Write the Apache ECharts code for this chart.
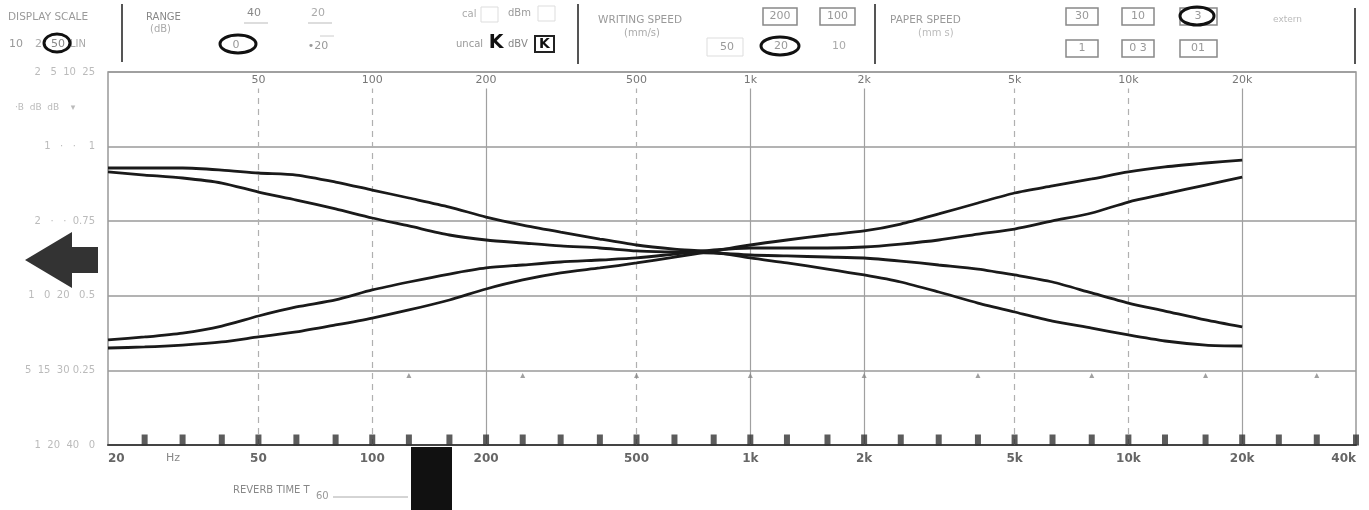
<!DOCTYPE html>
<html><head><meta charset="utf-8">
<script src="https://cdn.jsdelivr.net/npm/echarts@6/dist/echarts.min.js"></script>
<style>html,body{margin:0;padding:0;background:#fff}#c{width:1369px;height:510px}</style>
</head><body><div id="c"></div>
<script>
// ---- data (frequency in Hz, level in dB on a 50 dB display scale) ----
const freqs = [20,25,31.5,40,50,63,80,100,125,160,200,250,315,400,500,630,800,1000,1250,1600,2000,2500,3150,4000,5000,6300,8000,10000,12500,16000,20000];
const curveA = [37.13,37.13,37.13,36.86,36.46,36.19,35.25,34.18,33.11,31.90,30.56,29.49,28.55,27.61,26.81,26.27,25.87,25.07,24.40,23.59,22.79,21.85,20.51,19.03,17.83,16.62,15.68,14.75,13.94,13.40,13.27];
const curveB = [36.60,36.19,35.79,35.12,33.91,32.84,31.64,30.43,29.36,28.15,27.48,27.08,26.68,26.41,26.01,25.87,25.74,25.47,25.34,25.20,25.07,24.66,24.13,23.59,22.79,21.85,20.38,19.03,17.96,16.76,15.82];
const curveC = [13.00,13.14,13.40,13.81,14.48,15.15,16.09,17.02,18.10,19.44,20.91,22.12,23.06,23.73,24.40,25.20,26.01,26.81,27.48,28.15,28.69,29.62,30.97,32.44,33.78,34.72,35.66,36.60,37.27,37.80,38.20];
const curveD = [14.08,14.48,15.01,15.95,17.29,18.50,19.44,20.78,21.85,22.92,23.73,24.13,24.53,24.80,25.07,25.60,26.14,26.41,26.41,26.41,26.54,26.94,27.48,28.28,28.95,30.03,31.10,32.57,33.65,34.85,35.92];

const bottomLabelFreqs = [20,29.7,50,100,200,500,1000,2000,5000,10000,20000,40000];
const bottomLabelTexts = ['20','Hz','50','100','200','500','1k','2k','5k','10k','20k','40k'];
const topLabelFreqs = [50,100,200,500,1000,2000,5000,10000,20000];
const topLabelTexts = ['50','100','200','500','1k','2k','5k','10k','20k'];
const solidGridFreqs = [200,1000,2000,20000];
const dashedGridFreqs = [50,100,500,5000,10000];
const thirdOctaveMarks = [25,31.5,40,50,63,80,100,125,160,200,250,315,400,500,630,800,1000,1250,1600,2000,2500,3150,4000,5000,6300,8000,10000,12500,16000,20000,25000,31500,40000];
const octaveTriangles = [125,250,500,1000,2000,4000,8000,16000,31500];
const triangleLevel = 9.3;
const yTickValues = [0,10,20,30,40,50];
const yTickLabels = ['1  20  40   0','5  15  30 0.25','1   0  20   0.5','2   ·   ·  0.75','1   ·   ·    1','2   5  10  25'];
const gridTop = 47.8;

// ---- build ----
const lx = f => Math.log10(f);
const pick = (vals, texts) => v => { for (let i = 0; i < vals.length; i++) if (Math.abs(lx(vals[i]) - v) < 1e-4) return texts[i]; return ''; };
const curve = arr => freqs.map((f, i) => [lx(f), arr[i]]);
const bottomFmt = v => { const t = pick(bottomLabelFreqs, bottomLabelTexts)(v); return t === 'Hz' ? '{u|Hz}' : t; };

const G = [];
const txt = (x, y, t, font, fill, align) => G.push({type:'text', x, y, silent:true, style:{text:t, font:font||'10px "DejaVu Sans"', fill:fill||'#999', align:align||'left', verticalAlign:'middle'}});
const rect = (x, y, w, h, stroke, lw) => G.push({type:'rect', silent:true, shape:{x, y, width:w, height:h}, style:{fill:null, stroke:stroke||'#aaa', lineWidth:lw||1}});
const ell = (cx, cy, rx, ry) => G.push({type:'ellipse', silent:true, shape:{cx, cy, rx, ry}, style:{fill:null, stroke:'#111', lineWidth:3}});
const line = (x1, y1, x2, y2, stroke, lw) => G.push({type:'line', silent:true, shape:{x1, y1, x2, y2}, style:{stroke:stroke||'#555', lineWidth:lw||2}});

// header
txt(8, 17, 'DISPLAY SCALE', '10.5px "DejaVu Sans"', '#9a9a9a');
txt(9, 44, '10', '11px "DejaVu Sans"', '#999');
txt(35, 44, '2', '11px "DejaVu Sans"', '#aaa');
txt(58, 44, '50', '11px "DejaVu Sans"', '#888', 'center');
txt(70, 44, 'LIN', '10px "DejaVu Sans"', '#aaa');
ell(57, 43, 13, 9);
line(122, 4, 122, 62, '#555', 2);
txt(146, 17, 'RANGE', '10px "DejaVu Sans"', '#888');
txt(150, 29, '(dB)', '10px "DejaVu Sans"', '#aaa');
txt(254, 13, '40', '11px "DejaVu Sans"', '#888', 'center');
line(244, 23, 268, 23, '#bbb', 1);
txt(318, 13, '20', '11px "DejaVu Sans"', '#aaa', 'center');
line(308, 23, 332, 23, '#bbb', 1);
txt(236, 45, '0', '11px "DejaVu Sans"', '#999', 'center');
ell(238, 44, 18, 9);
txt(318, 46, '•20', '11px "DejaVu Sans"', '#999', 'center');
line(320, 36, 334, 36, '#ccc', 1);
txt(462, 14, 'cal', '10px "DejaVu Sans"', '#aaa');
rect(481, 7, 17, 15, '#ddd', 1);
txt(508, 13, 'dBm', '10px "DejaVu Sans"', '#999');
rect(538, 6, 17, 15, '#ddd', 1);
txt(456, 44, 'uncal', '10px "DejaVu Sans"', '#999');
txt(496, 43, 'K', 'bold 19px "DejaVu Sans"', '#111', 'center');
txt(508, 44, 'dBV', '10px "DejaVu Sans"', '#888');
rect(535, 36, 19, 16, '#222', 2);
txt(544.5, 44, 'K', 'bold 14px "DejaVu Sans"', '#111', 'center');
line(578, 4, 578, 64, '#555', 2);
txt(598, 20, 'WRITING SPEED', '10.5px "DejaVu Sans"', '#999');
txt(624, 33, '(mm/s)', '10px "DejaVu Sans"', '#aaa');
rect(763, 8, 34, 17, '#888', 1.5); txt(780, 16.5, '200', '11px "DejaVu Sans"', '#999', 'center');
rect(820, 8, 35, 17, '#888', 1.5); txt(837.5, 16.5, '100', '11px "DejaVu Sans"', '#999', 'center');
rect(707, 38, 36, 18, '#ddd', 1); txt(727, 47, '50', '11px "DejaVu Sans"', '#999', 'center');
txt(781, 46, '20', '11px "DejaVu Sans"', '#999', 'center');
ell(780, 46, 19, 9);
txt(839, 46, '10', '11px "DejaVu Sans"', '#aaa', 'center');
line(875, 4, 875, 64, '#555', 2);
txt(890, 20, 'PAPER SPEED', '10.5px "DejaVu Sans"', '#999');
txt(918, 33, '(mm s)', '10px "DejaVu Sans"', '#bbb');
rect(1066, 8, 32, 17, '#888', 1.5); txt(1082, 16.5, '30', '11px "DejaVu Sans"', '#999', 'center');
rect(1122, 8, 32, 17, '#888', 1.5); txt(1138, 16.5, '10', '11px "DejaVu Sans"', '#999', 'center');
rect(1180, 8, 37, 17, '#888', 1.5); txt(1198, 16.5, '3', '11px "DejaVu Sans"', '#999', 'center');
ell(1197, 16, 17, 9);
rect(1066, 40, 32, 17, '#888', 1.5); txt(1082, 48.5, '1', '11px "DejaVu Sans"', '#999', 'center');
rect(1122, 40, 32, 17, '#888', 1.5); txt(1138, 48.5, '0 3', '11px "DejaVu Sans"', '#999', 'center');
rect(1180, 40, 37, 17, '#888', 1.5); txt(1198, 48.5, '01', '11px "DejaVu Sans"', '#999', 'center');
txt(1273, 20, 'extern', '9px "DejaVu Sans"', '#bbb');
line(1355, 8, 1355, 64, '#555', 2);
// left side
txt(15, 108, '·B  dB  dB    ▾', '9px "DejaVu Sans"', '#bbb');
G.push({type:'polygon', silent:true, shape:{points:[[25,260],[72,232],[72,247],[98,247],[98,273],[72,273],[72,288]]}, style:{fill:'#333'}});
// bottom
txt(233, 490, 'REVERB TIME T', '10px "DejaVu Sans"', '#888');
txt(316, 496, '60', '10px "DejaVu Sans"', '#999');
line(333, 497, 408, 497, '#aaa', 1);
G.push({type:'rect', silent:true, z:10, shape:{x:411, y:447, width:41, height:63}, style:{fill:'#111'}});

const gridLines = solidGridFreqs.map(f => [{coord:[lx(f), 0], lineStyle:{type:'solid', color:'#a0a0a0', width:1.2}}, {coord:[lx(f), gridTop]}])
  .concat(dashedGridFreqs.map(f => [{coord:[lx(f), 0], lineStyle:{type:[6,5], color:'#b0b0b0', width:1.2}}, {coord:[lx(f), gridTop]}]));

const curveStyle = {color:'#1a1a1a', width:2.8};
const mkCurve = (name, arr) => ({name, type:'line', data:curve(arr), showSymbol:false, smooth:0.25, z:5, lineStyle:curveStyle, itemStyle:{color:'#1a1a1a'}});

const chart = echarts.init(document.getElementById('c'), null, {renderer:'canvas'});
chart.setOption({
  animation:false,
  backgroundColor:'#fff',
  grid:{left:108, right:13, top:72, bottom:65, show:true, borderColor:'#999', borderWidth:1.5, outerBoundsMode:'none'},
  xAxis:[
    {type:'value', min:lx(20), max:lx(40000), position:'bottom',
     axisLine:{show:true, lineStyle:{color:'#444', width:2}}, axisTick:{show:false}, splitLine:{show:false},
     axisLabel:{customValues:bottomLabelFreqs.map(lx), formatter:bottomFmt, color:'#666', fontWeight:'bold', fontSize:12, fontFamily:'"DejaVu Sans", sans-serif', margin:8, alignMinLabel:'left', alignMaxLabel:'right', showMinLabel:true, showMaxLabel:true,
       rich:{u:{color:'#888', fontWeight:'normal', fontSize:11, fontFamily:'"DejaVu Sans", sans-serif'}}}},
    {type:'value', min:lx(20), max:lx(40000), position:'top',
     axisLine:{show:false}, axisTick:{show:false}, splitLine:{show:false},
     axisLabel:{inside:true, customValues:topLabelFreqs.map(lx), formatter:pick(topLabelFreqs, topLabelTexts), color:'#777', fontSize:11, fontFamily:'"DejaVu Sans", sans-serif', margin:3}}
  ],
  yAxis:{type:'value', min:0, max:50, interval:10,
    axisLine:{show:false}, axisTick:{show:false},
    splitLine:{show:true, lineStyle:{color:'#9a9a9a', width:1.5}},
    axisLabel:{formatter:v => yTickLabels[yTickValues.indexOf(Math.round(v))], color:'#bbb', fontSize:10, fontFamily:'"DejaVu Sans", sans-serif', margin:13}},
  graphic:G,
  series:[
    {name:'marks', type:'scatter', data:thirdOctaveMarks.map(f => [lx(f), 0]), symbol:'rect', symbolSize:[6,11], symbolOffset:[0,-5], itemStyle:{color:'#333'}, z:3, silent:true, clip:false,
     markLine:{silent:true, symbol:'none', label:{show:false}, data:gridLines, z:1}},
    {name:'octave', type:'scatter', data:octaveTriangles.map(f => [lx(f), triangleLevel]), symbol:'triangle', symbolSize:5, itemStyle:{color:'#888'}, z:3, silent:true},
    mkCurve('A', curveA), mkCurve('B', curveB), mkCurve('C', curveC), mkCurve('D', curveD)
  ]
});
</script></body></html>
